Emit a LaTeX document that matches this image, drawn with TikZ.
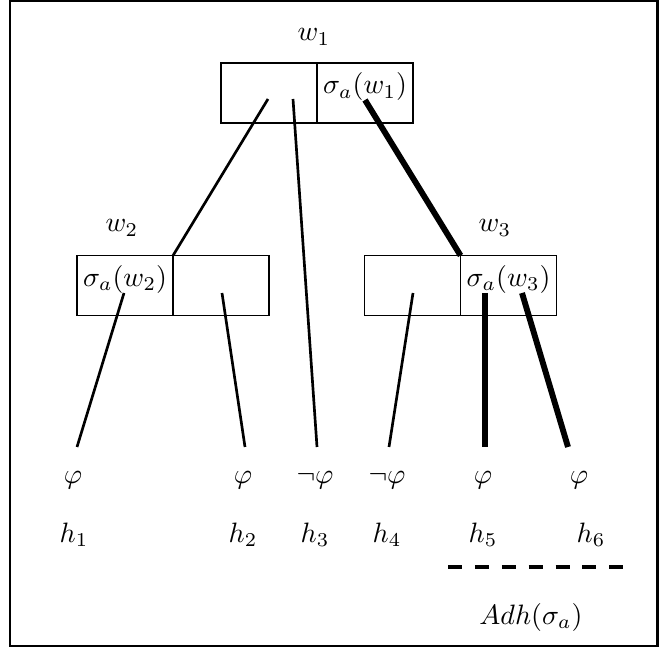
\documentclass[tikz,border=0pt]{standalone}
\usepackage{amsmath, amssymb}
\usepackage{tikz}
\usetikzlibrary{positioning}
\tikzset{
    worldcell/.style={draw=black, line width=0.6pt, minimum width=34.3pt, minimum height=21.4pt, inner sep=0pt, outer sep=0pt},
    celltext/.style={anchor=north, inner sep=3.3pt},
    thinedge/.style={line width=0.95pt, draw=black},
    boldedge/.style={line width=2.1pt, draw=black},
    leaf/.style={inner sep=1pt},
    adhline/.style={line width=1.4pt, dash pattern=on 5pt off 4.6pt},
    frameline/.style={line width=0.8pt}
}
\begin{document}
\begin{tikzpicture}[x=0.357pt,y=-0.357pt]
    \useasboundingbox (0,0) rectangle (659,649);
    \draw[frameline] (10,1) rectangle (657.5,646);
    % worlds
    \node[worldcell] (w1l) at (269,93) {};
    \node[worldcell, right=0pt of w1l, label={[celltext]north:$\sigma_a(w_1)$}] (w1r) {};
    \node[worldcell] (w2l) at (125,285.5) {};
    \node[worldcell, right=0pt of w2l] (w2r) {};
    \node[celltext] at (w2l.north) {$\sigma_a(w_2)$};
    \node[worldcell] (w3l) at (412.5,285.5) {};
    \node[worldcell, right=0pt of w3l, label={[celltext]north:$\sigma_a(w_3)$}] (w3r) {};
    \node (lw1) at (314,37) {$w_1$};
    \node (lw2) at (122,228) {$w_2$};
    \node (lw3) at (495,228) {$w_3$};
    % leaves
    \node[leaf] (p1) at (73,480) {$\varphi$};
    \node[leaf] (p2) at (243,480) {$\varphi$};
    \node[leaf] (p3) at (315,480) {$\neg\varphi$};
    \node[leaf] (p4) at (387,480) {$\neg\varphi$};
    \node[leaf] (p5) at (483,480) {$\varphi$};
    \node[leaf] (p6) at (579,480) {$\varphi$};
    \node (h1) at (74,535) {$h_1$};
    \node (h2) at (243,535) {$h_2$};
    \node (h3) at (315,535) {$h_3$};
    \node (h4) at (387,535) {$h_4$};
    \node (h5) at (483,535) {$h_5$};
    \node (h6) at (591,535) {$h_6$};
    % edge ends
    \coordinate (s1) at (268,99);
    \coordinate (s2) at (293,99);
    \coordinate (s3) at (365,100);
    \coordinate (s4) at (124,293);
    \coordinate (s5) at (222,293);
    \coordinate (s6) at (413,293);
    \coordinate (s7) at (485,293);
    \coordinate (s8) at (522,293);
    \coordinate (e1) at (77,447);
    \coordinate (e2) at (245,447);
    \coordinate (e3) at (317,447);
    \coordinate (e4) at (389,447);
    \coordinate (e5) at (485,447);
    \coordinate (e6) at (568,447);
    \draw[thinedge] (s1) -- (w2l.north east);
    \draw[thinedge] (s2) -- (e3);
    \draw[boldedge] (s3) -- (w3l.north east);
    \draw[thinedge] (s4) -- (e1);
    \draw[thinedge] (s5) -- (e2);
    \draw[thinedge] (s6) -- (e4);
    \draw[boldedge] (s7) -- (e5);
    \draw[boldedge] (s8) -- (e6);
    % adherence
    \coordinate (d1) at (448,567);
    \coordinate (d2) at (630,567);
    \draw[adhline] (d1) -- (d2);
    \node (adh) at (531,617) {$Adh(\sigma_a)$};
\end{tikzpicture}
\end{document}
